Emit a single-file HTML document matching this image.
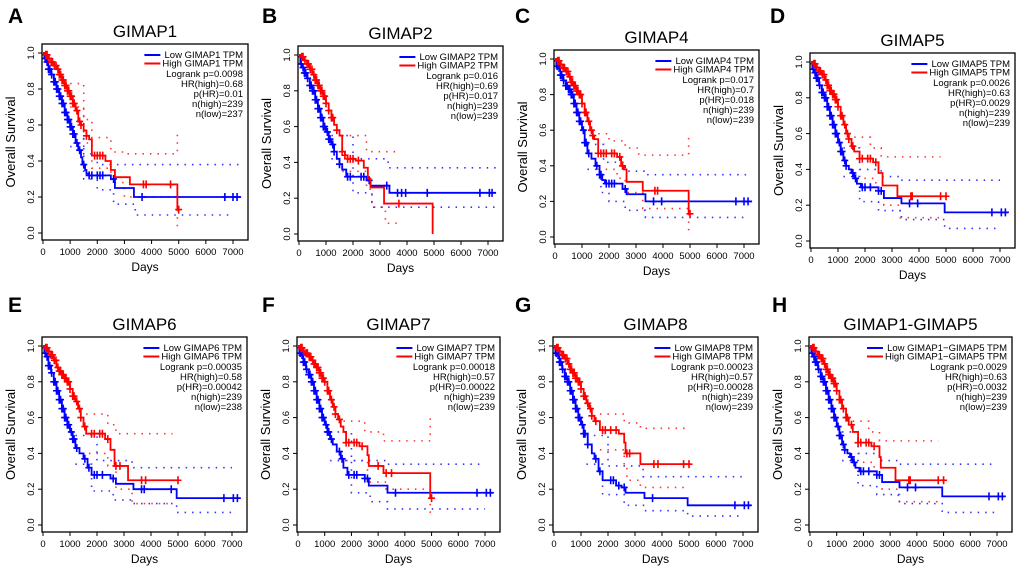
<!DOCTYPE html>
<html><head><meta charset="utf-8"><style>
html,body{margin:0;padding:0;background:#fff}
svg{display:block;font-family:"Liberation Sans",Arial,sans-serif}
</style></head><body>
<svg id="fig" width="1020" height="572" viewBox="0 0 1020 572" xmlns="http://www.w3.org/2000/svg"></svg>
<script>
// ---------- data (days, survival probability) ----------
const A_high=[[100,0.99],[200,0.97],[300,0.95],[400,0.93],[500,0.91],[600,0.88],[700,0.85],[800,0.82],[900,0.79],[1000,0.76],[1100,0.72],[1200,0.68],[1300,0.62],[1400,0.60],[1500,0.57],[1600,0.54],[1700,0.52],[1800,0.43],[2300,0.40],[2500,0.35],[2650,0.31],[3200,0.27],[4950,0.13]];
const A_low=[[50,0.97],[100,0.95],[200,0.91],[300,0.88],[400,0.84],[500,0.80],[600,0.76],[700,0.72],[800,0.67],[900,0.63],[1000,0.59],[1100,0.55],[1200,0.50],[1300,0.46],[1400,0.42],[1450,0.38],[1550,0.35],[1600,0.33],[1700,0.32],[2500,0.30],[2650,0.25],[3350,0.20]];
const A_highEnd=5000, A_lowEnd=7300;
const A_cH=[100,150,220,300,350,420,480,550,600,650,700,750,800,850,900,950,1000,1050,1100,1150,1250,1350,1400,1600,1900,2000,2100,2200,3700,3800,4700,5000];
const A_cL=[80,150,200,250,320,400,450,500,550,600,650,700,750,800,850,900,950,1000,1050,1100,1150,1250,1350,1500,1700,1800,2000,2100,2200,2600,3650,6700,7000,7150];
const A_hiU=[[1000,0.83],[1500,0.63],[1800,0.53],[2500,0.45],[3000,0.44],[4950,0.57]];
const A_hiL=[[1000,0.70],[1500,0.50],[1800,0.36],[2500,0.28],[3000,0.20],[4950,0.03]];
const A_loU=[[1000,0.62],[1500,0.44],[2000,0.38],[7300,0.38]];
const A_loL=[[1000,0.48],[1500,0.30],[2000,0.24],[2600,0.16],[3400,0.10],[7000,0.10]];

const B_high=[[100,0.99],[200,0.97],[300,0.95],[400,0.92],[500,0.89],[600,0.86],[700,0.83],[800,0.80],[900,0.77],[1000,0.73],[1100,0.69],[1200,0.65],[1300,0.61],[1400,0.58],[1500,0.55],[1600,0.46],[1700,0.44],[1800,0.42],[2100,0.41],[2400,0.37],[2550,0.31],[2650,0.26],[3150,0.17],[4950,0.0]];
const B_low=[[50,0.95],[100,0.93],[200,0.90],[300,0.87],[400,0.83],[500,0.80],[600,0.75],[700,0.70],[800,0.65],[900,0.60],[1000,0.57],[1100,0.53],[1200,0.50],[1300,0.46],[1400,0.42],[1500,0.39],[1600,0.36],[1750,0.32],[2500,0.30],[2650,0.27],[3350,0.23]];
const B_highEnd=4950, B_lowEnd=7300;
const B_cH=[100,150,220,300,350,420,480,550,600,650,700,750,800,850,900,950,1000,1100,1200,1250,1400,1600,1700,1800,1900,2000,2200,3700];
const B_cL=[80,150,200,250,320,400,450,500,550,600,650,700,750,800,850,900,950,1050,1100,1150,1250,1300,1500,1800,1900,2300,2400,2600,3250,3650,3800,3950,4750,6700,7050,7150];
const B_hiU=[[1600,0.55],[2500,0.46],[3650,0.46]];
const B_hiL=[[1600,0.35],[2500,0.25],[2700,0.15],[3200,0.06],[3650,0.06]];
const B_loU=[[1200,0.55],[2000,0.42],[3300,0.37],[7300,0.37]];
const B_loL=[[1200,0.42],[2000,0.23],[2700,0.15],[7300,0.15]];

const C_high=[[100,0.99],[200,0.97],[300,0.95],[400,0.93],[500,0.90],[600,0.87],[700,0.85],[800,0.82],[900,0.80],[1000,0.75],[1100,0.70],[1200,0.65],[1300,0.60],[1400,0.57],[1450,0.55],[1600,0.47],[2300,0.45],[2450,0.40],[2550,0.38],[2650,0.31],[3250,0.26],[4950,0.13]];
const C_low=[[50,0.96],[100,0.95],[200,0.91],[300,0.88],[400,0.85],[500,0.83],[600,0.80],[700,0.75],[800,0.70],[900,0.65],[1000,0.60],[1100,0.53],[1200,0.47],[1350,0.44],[1500,0.40],[1650,0.35],[1750,0.32],[1850,0.30],[2500,0.27],[2650,0.24],[3350,0.20]];
const C_highEnd=5000, C_lowEnd=7300;
const C_cH=[100,150,220,300,350,420,480,550,600,650,700,750,800,850,900,950,1000,1100,1150,1250,1350,1400,1600,1700,1800,1900,2100,2200,2400,2500,3700,3800,5000];
const C_cL=[80,150,200,250,320,400,450,500,550,600,650,700,750,800,850,900,950,1050,1100,1150,1250,1550,1650,1700,1900,2000,2100,2200,2600,3650,3950,6700,7000,7150];
const C_hiU=[[1600,0.58],[2000,0.54],[2600,0.50],[3100,0.46],[4950,0.56]];
const C_hiL=[[1600,0.38],[2300,0.33],[2600,0.25],[3250,0.16],[4950,0.03]];
const C_loU=[[1200,0.52],[1800,0.42],[2600,0.37],[3300,0.35],[7300,0.35]];
const C_loL=[[1200,0.38],[1700,0.25],[2000,0.20],[2600,0.15],[3350,0.11],[7000,0.11]];

const D_high=[[100,0.99],[200,0.97],[300,0.95],[400,0.93],[500,0.90],[600,0.87],[700,0.84],[800,0.82],[900,0.79],[1000,0.75],[1100,0.70],[1200,0.65],[1300,0.60],[1400,0.57],[1500,0.53],[1600,0.50],[1800,0.46],[2300,0.44],[2500,0.38],[2650,0.31],[3200,0.25]];
const D_low=[[50,0.96],[100,0.94],[200,0.91],[300,0.87],[400,0.83],[500,0.80],[600,0.75],[700,0.70],[800,0.65],[900,0.60],[1000,0.55],[1100,0.50],[1200,0.45],[1300,0.42],[1400,0.40],[1500,0.38],[1600,0.35],[1700,0.32],[1850,0.30],[2500,0.28],[2700,0.24],[3350,0.21],[4950,0.16]];
const D_highEnd=5050, D_lowEnd=7300;
const D_cH=[100,150,220,300,350,420,480,550,600,650,700,750,800,850,900,950,1000,1100,1150,1250,1350,1400,1550,1800,1900,2100,2200,2400,3700,3750,4800,5000];
const D_cL=[80,150,200,250,320,400,450,500,550,600,650,700,750,800,850,900,950,1050,1100,1150,1250,1300,1550,1650,1900,2000,2200,2500,2600,3650,3950,6700,7050,7200];
const D_hiU=[[1600,0.58],[2200,0.52],[2600,0.47],[4800,0.47]];
const D_hiL=[[1700,0.35],[2400,0.28],[2700,0.20],[3300,0.13],[4800,0.13]];
const D_loU=[[1200,0.52],[1800,0.40],[2600,0.36],[3300,0.34],[7000,0.34]];
const D_loL=[[1200,0.36],[1800,0.22],[2500,0.17],[3350,0.12],[4950,0.07],[7000,0.07]];

const E_high=[[100,0.99],[200,0.97],[300,0.95],[400,0.92],[500,0.88],[600,0.86],[700,0.84],[800,0.82],[900,0.80],[1000,0.76],[1100,0.72],[1200,0.69],[1300,0.65],[1400,0.60],[1500,0.55],[1600,0.51],[2300,0.48],[2500,0.42],[2650,0.33],[3150,0.25]];
const E_low=[[50,0.96],[100,0.94],[200,0.89],[300,0.85],[400,0.80],[500,0.75],[600,0.70],[700,0.65],[800,0.60],[900,0.56],[1000,0.52],[1100,0.48],[1200,0.43],[1350,0.40],[1500,0.37],[1650,0.32],[1800,0.28],[2500,0.26],[2700,0.23],[3350,0.20],[4950,0.15]];
const E_highEnd=5000, E_lowEnd=7300;
const E_cH=[100,150,220,300,350,420,480,550,600,650,700,750,800,850,900,950,1000,1100,1150,1250,1350,1400,1550,1800,1900,2100,2200,2400,2700,2850,3650,3800,5000];
const E_cL=[80,150,200,250,320,400,450,500,550,600,650,700,750,800,850,900,950,1050,1100,1150,1250,1550,1700,1900,2000,2200,2600,3650,3750,4750,6700,7050,7200];
const E_hiU=[[1600,0.62],[2400,0.56],[2700,0.51],[4800,0.51]];
const E_hiL=[[1700,0.40],[2400,0.33],[2700,0.20],[3300,0.12],[4800,0.12]];
const E_loU=[[1200,0.50],[2000,0.36],[3300,0.32],[7000,0.32]];
const E_loL=[[1200,0.34],[1800,0.19],[2600,0.14],[3350,0.12],[4950,0.07],[7000,0.07]];

const F_high=[[100,0.99],[200,0.97],[300,0.96],[400,0.94],[500,0.92],[600,0.90],[700,0.88],[800,0.85],[900,0.82],[1000,0.80],[1100,0.75],[1200,0.70],[1300,0.66],[1400,0.62],[1500,0.59],[1600,0.55],[1700,0.52],[1800,0.46],[2300,0.44],[2600,0.39],[2650,0.33],[3200,0.29],[4950,0.15]];
const F_low=[[50,0.96],[100,0.95],[200,0.91],[300,0.87],[400,0.84],[500,0.80],[600,0.75],[700,0.70],[800,0.65],[900,0.60],[1000,0.56],[1100,0.52],[1200,0.48],[1300,0.45],[1450,0.41],[1600,0.37],[1700,0.32],[1850,0.28],[2500,0.26],[2650,0.22],[3350,0.18]];
const F_highEnd=5000, F_lowEnd=7300;
const F_cH=[100,150,220,300,350,420,480,550,600,650,700,750,800,850,900,950,1000,1100,1150,1250,1350,1400,1550,1800,1900,2100,2200,2400,3000,3300,3500,5000];
const F_cL=[80,150,200,250,320,400,450,500,550,600,650,700,750,800,850,900,950,1050,1100,1150,1250,1550,1650,1900,2100,2200,2500,2600,3650,6700,7050,7200];
const F_hiU=[[1700,0.58],[2500,0.52],[3200,0.47],[4950,0.62]];
const F_hiL=[[1800,0.36],[2600,0.24],[3300,0.20],[4950,0.04]];
const F_loU=[[1200,0.52],[2000,0.36],[3300,0.34],[7000,0.34]];
const F_loL=[[1200,0.36],[2000,0.18],[2700,0.13],[3350,0.09],[7000,0.09]];

const G_high=[[100,0.99],[200,0.97],[300,0.95],[400,0.93],[500,0.90],[600,0.87],[700,0.85],[800,0.82],[900,0.80],[1000,0.76],[1100,0.72],[1200,0.68],[1300,0.65],[1400,0.61],[1500,0.58],[1700,0.53],[2400,0.51],[2600,0.46],[2650,0.40],[3200,0.34]];
const G_low=[[50,0.96],[100,0.95],[200,0.91],[300,0.87],[400,0.83],[500,0.80],[600,0.75],[700,0.70],[800,0.65],[900,0.60],[1000,0.56],[1100,0.51],[1250,0.45],[1400,0.40],[1500,0.37],[1650,0.30],[1800,0.25],[2300,0.22],[2500,0.21],[2650,0.18],[3350,0.15],[4950,0.11]];
const G_highEnd=5050, G_lowEnd=7300;
const G_cH=[100,150,220,300,350,420,480,550,600,650,700,750,800,850,900,950,1000,1100,1150,1250,1350,1400,1550,1800,1900,2100,2300,2700,2800,3700,3850,4800,5000];
const G_cL=[80,150,200,250,320,400,450,500,550,600,650,700,750,800,850,900,950,1050,1100,1150,1250,1550,1700,2100,2200,2400,2600,3650,6700,7050,7200];
const G_hiU=[[1700,0.62],[2600,0.57],[3200,0.54],[5000,0.54]];
const G_hiL=[[1700,0.42],[2600,0.33],[2700,0.25],[3200,0.21],[5000,0.21]];
const G_loU=[[1200,0.50],[2000,0.33],[3300,0.27],[7000,0.27]];
const G_loL=[[1200,0.34],[1800,0.17],[2600,0.11],[3350,0.08],[4950,0.05],[7000,0.05]];

const H_high=[[100,0.99],[200,0.97],[300,0.95],[400,0.93],[500,0.90],[600,0.87],[700,0.84],[800,0.82],[900,0.79],[1000,0.75],[1100,0.70],[1200,0.65],[1350,0.60],[1450,0.56],[1600,0.52],[1800,0.46],[2300,0.44],[2600,0.38],[2650,0.32],[3200,0.25]];
const H_low=[[50,0.96],[100,0.94],[200,0.91],[300,0.87],[400,0.83],[500,0.80],[600,0.75],[700,0.70],[800,0.65],[900,0.60],[1000,0.55],[1100,0.50],[1200,0.45],[1300,0.42],[1400,0.40],[1500,0.38],[1600,0.35],[1700,0.32],[1850,0.30],[2500,0.28],[2700,0.24],[3350,0.21],[4950,0.16]];
const H_highEnd=5050, H_lowEnd=7300;
const H_cH=D_cH, H_cL=D_cL, H_hiU=D_hiU, H_hiL=D_hiL, H_loU=D_loU, H_loL=D_loL;

const xTicks=[0,1000,2000,3000,4000,5000,6000,7000];
const yTicks=[0,0.2,0.4,0.6,0.8,1.0];
const yTickLabels=["0.0","0.2","0.4","0.6","0.8","1.0"];

const panels=[
 {id:"A",gene:"GIMAP1",box:[42,44,206,196],letter:[8,23],stats:["Logrank p=0.0098","HR(high)=0.68","p(HR)=0.01","n(high)=239","n(low)=237"],hi:A_high,lo:A_low,he:A_highEnd,le:A_lowEnd,cH:A_cH,cL:A_cL,hu:A_hiU,hl:A_hiL,lu:A_loU,ll:A_loL},
 {id:"B",gene:"GIMAP2",box:[298,46,205,195],letter:[262,23],stats:["Logrank p=0.016","HR(high)=0.69","p(HR)=0.017","n(high)=239","n(low)=239"],hi:B_high,lo:B_low,he:B_highEnd,le:B_lowEnd,cH:B_cH,cL:B_cL,hu:B_hiU,hl:B_hiL,lu:B_loU,ll:B_loL},
 {id:"C",gene:"GIMAP4",box:[554,50,205,194],letter:[515,23],stats:["Logrank p=0.017","HR(high)=0.7","p(HR)=0.018","n(high)=239","n(low)=239"],hi:C_high,lo:C_low,he:C_highEnd,le:C_lowEnd,cH:C_cH,cL:C_cL,hu:C_hiU,hl:C_hiL,lu:C_loU,ll:C_loL},
 {id:"D",gene:"GIMAP5",box:[810,53,205,195],letter:[770,23],stats:["Logrank p=0.0026","HR(high)=0.63","p(HR)=0.0029","n(high)=239","n(low)=239"],hi:D_high,lo:D_low,he:D_highEnd,le:D_lowEnd,cH:D_cH,cL:D_cL,hu:D_hiU,hl:D_hiL,lu:D_loU,ll:D_loL},
 {id:"E",gene:"GIMAP6",box:[42,337,205,195],letter:[8,312],stats:["Logrank p=0.00035","HR(high)=0.58","p(HR)=0.00042","n(high)=239","n(low)=238"],hi:E_high,lo:E_low,he:E_highEnd,le:E_lowEnd,cH:E_cH,cL:E_cL,hu:E_hiU,hl:E_hiL,lu:E_loU,ll:E_loL},
 {id:"F",gene:"GIMAP7",box:[297,337,203,195],letter:[262,312],stats:["Logrank p=0.00018","HR(high)=0.57","p(HR)=0.00022","n(high)=239","n(low)=239"],hi:F_high,lo:F_low,he:F_highEnd,le:F_lowEnd,cH:F_cH,cL:F_cL,hu:F_hiU,hl:F_hiL,lu:F_loU,ll:F_loL},
 {id:"G",gene:"GIMAP8",box:[553,337,205,195],letter:[515,312],stats:["Logrank p=0.00023","HR(high)=0.57","p(HR)=0.00028","n(high)=239","n(low)=239"],hi:G_high,lo:G_low,he:G_highEnd,le:G_lowEnd,cH:G_cH,cL:G_cL,hu:G_hiU,hl:G_hiL,lu:G_loU,ll:G_loL},
 {id:"H",gene:"GIMAP1-GIMAP5",leg:"GIMAP1\u2212GIMAP5",box:[809,337,203,195],letter:[772,312],stats:["Logrank p=0.0029","HR(high)=0.63","p(HR)=0.0032","n(high)=239","n(low)=239"],hi:H_high,lo:H_low,he:H_highEnd,le:H_lowEnd,cH:H_cH,cL:H_cL,hu:H_hiU,hl:H_hiL,lu:H_loU,ll:H_loL}
];

const NS="http://www.w3.org/2000/svg";
const svg=document.getElementById("fig");
function mk(tag,attrs,parent){const e=document.createElementNS(NS,tag);for(const k in attrs)e.setAttribute(k,attrs[k]);(parent||svg).appendChild(e);return e;}
function stepPath(pts,end,X,Y){let d="M"+X(0)+","+Y(1);for(const p of pts){d+="H"+X(p[0])+"V"+Y(p[1]);}d+="H"+X(end);return d;}
function ciPath(pts,X,Y){let d="M"+X(pts[0][0])+","+Y(pts[0][1]);for(let i=1;i<pts.length;i++){d+="H"+X(pts[i][0])+"V"+Y(pts[i][1]);}return d;}
function survAt(pts,t){let s=1;for(const p of pts){if(p[0]<=t)s=p[1];}return s;}

panels.forEach(p=>{
  const [L,T,W,H]=p.box;
  const X=t=>L+1+t/7000*(W-16);
  const Y=s=>T+9+(1-s)*(H-16);
  const g=mk("g",{});
  
  
  const let_=mk("text",{x:p.letter[0],y:p.letter[1],"font-size":21,"font-weight":"bold"},g);let_.textContent=p.id;
  
  const ti=mk("text",{x:L+W/2,y:T-7,"font-size":17,"text-anchor":"middle"},g);ti.textContent=p.gene;
  
  const ax=mk("g",{stroke:"#000","stroke-width":1},g);
  
  xTicks.forEach(t=>{mk("line",{x1:X(t),x2:X(t),y1:T+H,y2:T+H+4},ax);
    const tx=mk("text",{x:X(t),y:T+H+15,"font-size":9.5,"text-anchor":"middle",stroke:"none"},g);tx.textContent=t;
    });
  yTicks.forEach((v,i)=>{mk("line",{x1:L-4,x2:L,y1:Y(v),y2:Y(v)},ax);
    const tx=mk("text",{x:0,y:0,"font-size":9.5,"text-anchor":"middle",transform:`translate(${L-8},${Y(v)}) rotate(-90)`},g);tx.textContent=yTickLabels[i];
    });
  const xl=mk("text",{x:L+W/2,y:T+H+31,"font-size":12,"text-anchor":"middle"},g);xl.textContent="Days";
  
  const yl=mk("text",{x:0,y:0,"font-size":13,"text-anchor":"middle",transform:`translate(${L-27},${T+H/2}) rotate(-90)`},g);yl.textContent="Overall Survival";
  
  [[p.hu,"#f33"],[p.hl,"#f33"],[p.lu,"#33f"],[p.ll,"#33f"]].forEach(c=>{
    const e=mk("path",{d:ciPath(c[0],X,Y),fill:"none",stroke:c[1],"stroke-width":1.6,"stroke-dasharray":"1.5 6"},g);
    });
  [[p.lo,p.le,p.cL,"#0000ff","low"],[p.hi,p.he,p.cH,"#ff0000","high"]].forEach(c=>{
    const e=mk("path",{d:stepPath(c[0],c[1],X,Y),fill:"none",stroke:c[3],"stroke-width":1.8},g);
    
    c[2].forEach(t=>{const cx=X(t),cy=Y(survAt(c[0],t));
      const m=mk("path",{d:`M${cx-3.5},${cy}H${cx+3.5}M${cx},${cy-4}V${cy+4}`,stroke:c[3],"stroke-width":1.6},g);
      });
  });
  mk("rect",{x:L,y:T,width:W,height:H,fill:"none",stroke:"#000","stroke-width":1.3},g);
  const R=L+W-5, lg=p.leg||p.gene;
  const t1=mk("text",{x:R,y:T+14,"font-size":9.5,"text-anchor":"end"},g);t1.textContent="Low "+lg+" TPM";
  
  const t2=mk("text",{x:R,y:T+22.5,"font-size":9.5,"text-anchor":"end"},g);t2.textContent="High "+lg+" TPM";
  
  const wmax=Math.max(t1.getComputedTextLength(),t2.getComputedTextLength());
  const lx2=R-wmax-2;
  mk("line",{x1:lx2-16,x2:lx2,y1:T+11,y2:T+11,stroke:"#0000ff","stroke-width":2},g);
  mk("line",{x1:lx2-16,x2:lx2,y1:T+19.5,y2:T+19.5,stroke:"#ff0000","stroke-width":2},g);
  p.stats.forEach((s,i)=>{const e=mk("text",{x:R,y:T+33+i*10,"font-size":9.5,"text-anchor":"end"},g);e.textContent=s;
    });
});
</script>
</body></html>
